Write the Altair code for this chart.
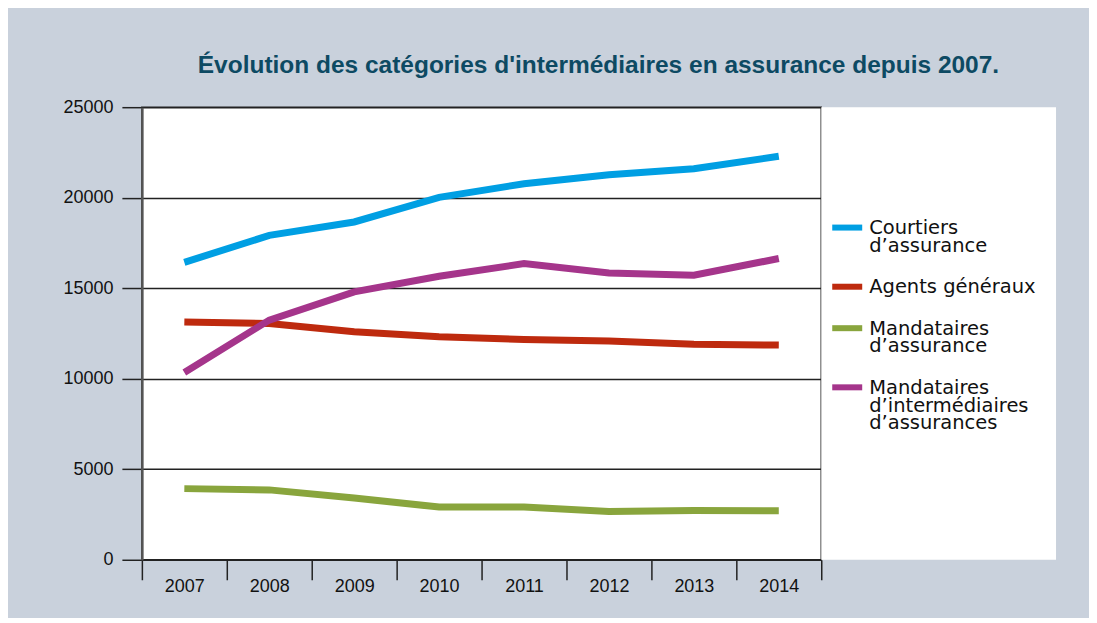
import altair as alt
import pandas as pd

years = ["2007", "2008", "2009", "2010", "2011", "2012", "2013", "2014"]
series_names = [
    "Courtiers d’assurance",
    "Agents généraux",
    "Mandataires d’assurance",
    "Mandataires d’intermédiaires d’assurances",
]
legend_labels = [
    "Courtiers\nd’assurance",
    "Agents généraux",
    "Mandataires\nd’assurance",
    "Mandataires\nd’intermédiaires\nd’assurances",
]
courtiers = [16430, 17920, 18660, 20020, 20770, 21270, 21600, 22290]
agents = [13140, 13050, 12590, 12320, 12170, 12080, 11900, 11860]
mandataires = [3930, 3860, 3410, 2910, 2910, 2670, 2720, 2710]
mandataires_inter = [10350, 13240, 14800, 15660, 16360, 15840, 15720, 16640]
colors = ["#009fe3", "#be2a0e", "#89a53d", "#a5358b"]
y_ticks = [0, 5000, 10000, 15000, 20000, 25000]

rows = []
for name, vals in zip(series_names, [courtiers, agents, mandataires, mandataires_inter]):
    for yr, v in zip(years, vals):
        rows.append({"annee": yr, "serie": name, "valeur": v})
df = pd.DataFrame(rows)

# legend layout (pixel positions inside the plot group)
W, H = 680, 453
LH = 17.7
GAP = 23.8
first_base = 127.0
leg_rows = []
base = first_base
for name, lab in zip(series_names, legend_labels):
    n = lab.count("\n") + 1
    leg_rows.append({"serie": name, "label": lab, "ybase": base, "ysym": base - 6.5})
    base += n * LH + GAP
leg_df = pd.DataFrame(leg_rows)

axis_font = "Liberation Sans, Arial, sans-serif"
color_scale = alt.Scale(domain=series_names, range=colors)

panel = alt.Chart(pd.DataFrame({"a": [0]})).mark_rect(
    fill="white", clip=False
).encode(
    x=alt.value(W), x2=alt.value(W + 235), y=alt.value(0), y2=alt.value(H)
)

lines = alt.Chart(df).mark_line(strokeWidth=7, strokeCap="butt", strokeJoin="miter").encode(
    x=alt.X("annee:N", sort=years, title=None,
            scale=alt.Scale(paddingInner=0, paddingOuter=0),
            axis=alt.Axis(tickBand="extent", labelAngle=0, tickSize=20,
                          tickColor="#222", tickWidth=1.5, domain=False,
                          labelFont=axis_font, labelFontSize=18, labelColor="#111",
                          labelPadding=-2, grid=False)),
    y=alt.Y("valeur:Q", title=None,
            scale=alt.Scale(domain=[0, 25000], nice=False),
            axis=alt.Axis(values=y_ticks, format="d", tickSize=20, tickColor="#222",
                          tickWidth=1.5, grid=True, gridColor="#222", gridWidth=1.5,
                          domain=True, domainColor="#555", domainWidth=2.5,
                          labelFont=axis_font, labelFontSize=18, labelColor="#111",
                          labelPadding=9)),
    color=alt.Color("serie:N", scale=color_scale, legend=None),
    detail="serie:N",
)

leg_sym = alt.Chart(leg_df).mark_rule(strokeWidth=6, clip=False).encode(
    x=alt.value(691), x2=alt.value(721),
    y=alt.Y("ysym:Q", scale=None, axis=None),
    color=alt.Color("serie:N", scale=color_scale, legend=None),
)

leg_txt = alt.Chart(leg_df).mark_text(
    align="left", baseline="alphabetic", lineBreak="\n", lineHeight=LH,
    font="DejaVu Sans, Open Sans, sans-serif", fontSize=19.5, color="#111", clip=False,
).encode(
    x=alt.value(728),
    y=alt.Y("ybase:Q", scale=None, axis=None),
    text="label:N",
)

chart = alt.layer(panel, lines, leg_sym, leg_txt).properties(
    width=W, height=H,
    title=alt.TitleParams(
        "Évolution des catégories d'intermédiaires en assurance depuis 2007.",
        font="Liberation Sans, Arial, sans-serif", fontSize=24.5, fontWeight="bold",
        color="#0d4a63", anchor="middle", frame="group", dx=117, offset=20,
    ),
    autosize=alt.AutoSizeParams(type="none"),
    padding={"left": 134, "top": 99, "right": 268, "bottom": 58},
).configure(
    background="#c9d1dc",
).configure_view(
    fill="white", stroke="#222", strokeWidth=1.5,
)

chart.save("out.html", embed_options={"renderer": "svg", "actions": False})
